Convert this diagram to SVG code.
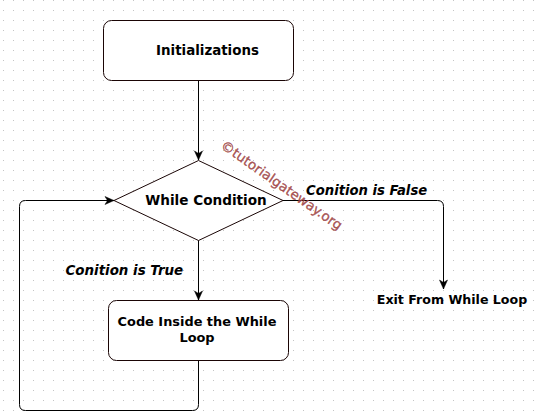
<svg xmlns="http://www.w3.org/2000/svg" width="535" height="419" viewBox="0 0 535 419">
<style>
.shape{fill:#fff;stroke:#1a0505;stroke-width:1}
.edge{fill:none;stroke:#000;stroke-width:1}
.lbl{font-family:"DejaVu Sans",Verdana,sans-serif;font-weight:bold;fill:#000}
.it{font-style:italic}
</style>
<defs>
<pattern id="grid" width="10" height="10" patternUnits="userSpaceOnUse">
<rect x="3" y="0" width="1" height="1" fill="#c4c4c4"/>
</pattern>
<marker id="arr" viewBox="-10 -5 11 10" refX="0" refY="0" markerWidth="11" markerHeight="10" markerUnits="userSpaceOnUse" orient="auto">
<path d="M0,0 L-9,-4 L-6.5,0 L-9,4 Z" fill="#000" stroke="#000" stroke-width="0.5"/>
</marker>
</defs>
<rect width="535" height="419" fill="#fff"/>
<rect width="535" height="419" fill="url(#grid)"/>
<g id="connectors">
<path class="edge" d="M198.5,80.5 L198.5,160" marker-end="url(#arr)"/>
<path class="edge" d="M198.5,240 L198.5,300" marker-end="url(#arr)"/>
<path class="edge" d="M283,200.5 L437.5,200.5 Q443.5,200.5 443.5,206.5 L443.5,289" marker-end="url(#arr)"/>
<path class="edge" d="M198.5,360.5 L198.5,404.5 Q198.5,410.5 192.5,410.5 L25.5,410.5 Q19.5,410.5 19.5,404.5 L19.5,206.5 Q19.5,200.5 25.5,200.5 L114,200.5" marker-end="url(#arr)"/>
</g>
<g id="init">
<rect class="shape" x="103.5" y="20.5" width="190" height="60" rx="8" ry="8"/>
<text class="lbl" x="207.5" y="55" font-size="13.4" text-anchor="middle">Initializations</text>
</g>
<g id="cond">
<path class="shape" d="M198.5,160.5 L283,200.5 L198.5,240.5 L114,200.5 Z"/>
<text class="lbl" x="206" y="205" font-size="13.6" text-anchor="middle">While Condition</text>
</g>
<g id="code">
<rect class="shape" x="108.5" y="300.5" width="180" height="60" rx="8" ry="8"/>
<text class="lbl" x="197" y="326" font-size="12.9" text-anchor="middle">Code Inside the While</text>
<text class="lbl" x="197" y="342" font-size="12.9" text-anchor="middle">Loop</text>
</g>
<g id="exit">
<text class="lbl" x="452" y="304" font-size="12.6" text-anchor="middle">Exit From While Loop</text>
</g>
<g id="labels">
<text class="lbl it" x="306" y="195" font-size="13.2">Conition is False</text>
<text class="lbl it" x="65.5" y="275" font-size="13.4">Conition is True</text>
</g>
<g id="watermark">
<text x="0" y="0" transform="translate(279,189) rotate(35)" text-anchor="middle" font-family="'DejaVu Sans',Verdana,sans-serif" font-size="13.5" fill="#a04444" stroke="#a04444" stroke-width="0.35" fill-opacity="0.9" stroke-opacity="0.9">©tutorialgateway.org</text>
</g>
</svg>
